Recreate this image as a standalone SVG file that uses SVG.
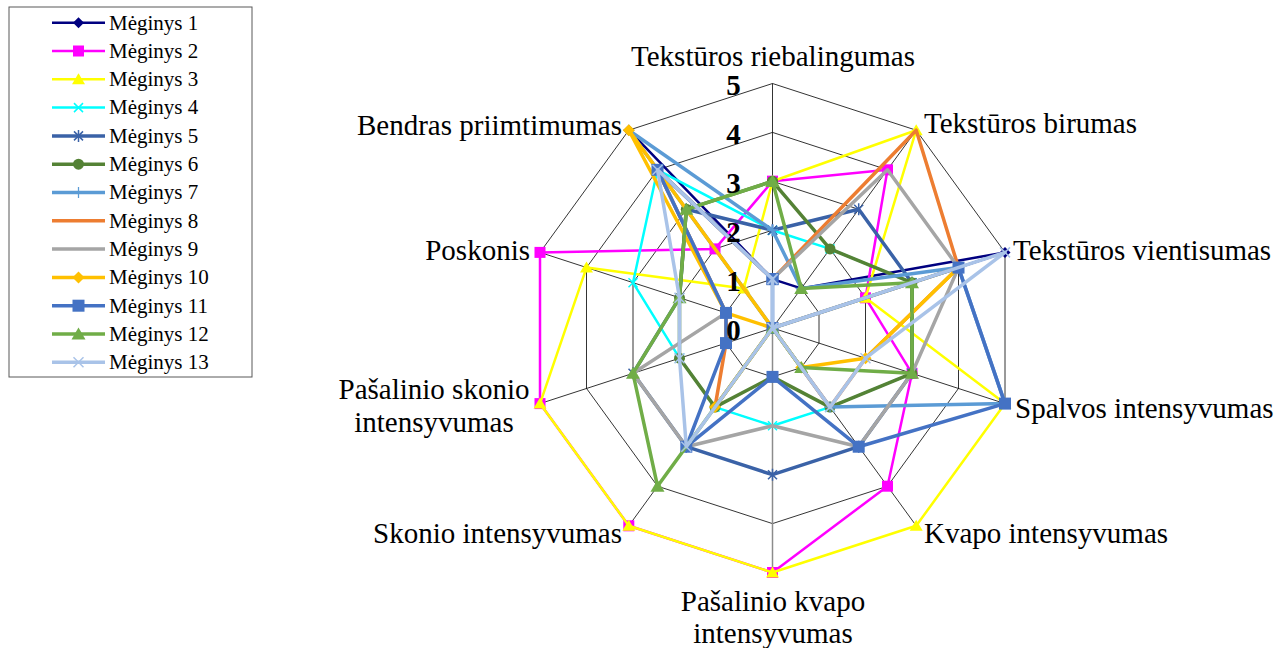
<svg xmlns="http://www.w3.org/2000/svg" width="1282" height="648" viewBox="0 0 1282 648">
<defs>
<style>
.ring{fill:none;stroke:#000;stroke-width:0.8}
.rad{stroke:#000;stroke-width:0.8}
.cat{font-family:"Liberation Serif","Times New Roman",serif;font-size:29px;fill:#000}
.tick{font-family:"Liberation Serif","Times New Roman",serif;font-size:29px;font-weight:bold;fill:#000;text-anchor:middle}
.leg{font-family:"Liberation Serif","Times New Roman",serif;font-size:21px;fill:#000}
.s{fill:none;stroke-linejoin:round;stroke-linecap:round}
.s1{stroke:#000080;stroke-width:2.5;marker:url(#mk1)}
.s2{stroke:#FF00FF;stroke-width:2.5;marker:url(#mk2)}
.s3{stroke:#FFFF00;stroke-width:2.5;marker:url(#mk3)}
.s4{stroke:#00FFFF;stroke-width:2.5;marker:url(#mk4)}
.s5{stroke:#3A62A7;stroke-width:3.5;marker:url(#mk5)}
.s6{stroke:#548235;stroke-width:3.5;marker:url(#mk6)}
.s7{stroke:#5B9BD5;stroke-width:3.5;marker:url(#mk7)}
.s8{stroke:#ED7D31;stroke-width:3.5}
.s9{stroke:#A5A5A5;stroke-width:3.5}
.s10{stroke:#FFC000;stroke-width:3.5;marker:url(#mk10)}
.s11{stroke:#4472C4;stroke-width:3.5;marker:url(#mk11)}
.s12{stroke:#70AD47;stroke-width:3.5;marker:url(#mk12)}
.s13{stroke:#A9C3E8;stroke-width:3.5;marker:url(#mk13)}
.lg{marker-start:none;marker-end:none;stroke-linecap:butt}
</style>
<marker id="mk1" markerUnits="userSpaceOnUse" viewBox="-8 -8 16 16" markerWidth="16" markerHeight="16" refX="0" refY="0"><polygon points="0,-5.5 5.5,0 0,5.5 -5.5,0" fill="#000080"/></marker>
<marker id="mk2" markerUnits="userSpaceOnUse" viewBox="-8 -8 16 16" markerWidth="16" markerHeight="16" refX="0" refY="0"><rect x="-5.5" y="-5.5" width="11" height="11" fill="#FF00FF"/></marker>
<marker id="mk3" markerUnits="userSpaceOnUse" viewBox="-8 -8 16 16" markerWidth="16" markerHeight="16" refX="0" refY="0"><polygon points="0,-6 6.5,5 -6.5,5" fill="#FFFF00"/></marker>
<marker id="mk4" markerUnits="userSpaceOnUse" viewBox="-8 -8 16 16" markerWidth="16" markerHeight="16" refX="0" refY="0"><path d="M-4.5,-4.5L4.5,4.5M-4.5,4.5L4.5,-4.5" stroke="#00FFFF" stroke-width="1.5" fill="none"/></marker>
<marker id="mk5" markerUnits="userSpaceOnUse" viewBox="-8 -8 16 16" markerWidth="16" markerHeight="16" refX="0" refY="0"><path d="M-4.5,-4.5L4.5,4.5M-4.5,4.5L4.5,-4.5M0,-6V6" stroke="#3A62A7" stroke-width="1.5" fill="none"/></marker>
<marker id="mk6" markerUnits="userSpaceOnUse" viewBox="-8 -8 16 16" markerWidth="16" markerHeight="16" refX="0" refY="0"><circle r="5.5" fill="#548235"/></marker>
<marker id="mk7" markerUnits="userSpaceOnUse" viewBox="-8 -8 16 16" markerWidth="16" markerHeight="16" refX="0" refY="0"><path d="M0,-5.5V5.5M-5.5,0H5.5" stroke="#5B9BD5" stroke-width="1.25" fill="none"/></marker>
<marker id="mk10" markerUnits="userSpaceOnUse" viewBox="-8 -8 16 16" markerWidth="16" markerHeight="16" refX="0" refY="0"><polygon points="0,-6 6,0 0,6 -6,0" fill="#FFC000"/></marker>
<marker id="mk11" markerUnits="userSpaceOnUse" viewBox="-8 -8 16 16" markerWidth="16" markerHeight="16" refX="0" refY="0"><rect x="-6" y="-6" width="12" height="12" fill="#4472C4"/></marker>
<marker id="mk12" markerUnits="userSpaceOnUse" viewBox="-8 -8 16 16" markerWidth="16" markerHeight="16" refX="0" refY="0"><polygon points="0,-6.5 7,5.5 -7,5.5" fill="#70AD47"/></marker>
<marker id="mk13" markerUnits="userSpaceOnUse" viewBox="-8 -8 16 16" markerWidth="16" markerHeight="16" refX="0" refY="0"><path d="M-5,-5L5,5M-5,5L5,-5" stroke="#A9C3E8" stroke-width="1.5" fill="none"/></marker>
</defs>
<rect width="1282" height="648" fill="#fff"/>

<g id="legend">
<rect x="9" y="7" width="243" height="370" fill="#fff" stroke="#595959" stroke-width="1"/>
<polyline class="s s1 lg" points="52,22.7 78.5,22.7 105,22.7"/><text class="leg" x="109" y="29.5">Mėginys 1</text>
<polyline class="s s2 lg" points="52,51 78.5,51 105,51"/><text class="leg" x="109" y="57.8">Mėginys 2</text>
<polyline class="s s3 lg" points="52,79.3 78.5,79.3 105,79.3"/><text class="leg" x="109" y="86.1">Mėginys 3</text>
<polyline class="s s4 lg" points="52,107.6 78.5,107.6 105,107.6"/><text class="leg" x="109" y="114.4">Mėginys 4</text>
<polyline class="s s5 lg" points="52,135.9 78.5,135.9 105,135.9"/><text class="leg" x="109" y="142.7">Mėginys 5</text>
<polyline class="s s6 lg" points="52,164.2 78.5,164.2 105,164.2"/><text class="leg" x="109" y="171">Mėginys 6</text>
<polyline class="s s7 lg" points="52,192.5 78.5,192.5 105,192.5"/><text class="leg" x="109" y="199.3">Mėginys 7</text>
<polyline class="s s8 lg" points="52,220.8 78.5,220.8 105,220.8"/><text class="leg" x="109" y="227.6">Mėginys 8</text>
<polyline class="s s9 lg" points="52,249.1 78.5,249.1 105,249.1"/><text class="leg" x="109" y="255.9">Mėginys 9</text>
<polyline class="s s10 lg" points="52,277.4 78.5,277.4 105,277.4"/><text class="leg" x="109" y="284.2">Mėginys 10</text>
<polyline class="s s11 lg" points="52,305.7 78.5,305.7 105,305.7"/><text class="leg" x="109" y="312.5">Mėginys 11</text>
<polyline class="s s12 lg" points="52,334 78.5,334 105,334"/><text class="leg" x="109" y="340.8">Mėginys 12</text>
<polyline class="s s13 lg" points="52,362.3 78.5,362.3 105,362.3"/><text class="leg" x="109" y="369.1">Mėginys 13</text>
</g>

<g id="grid">
<polygon class="ring" points="772.5,279.1 801.2,288.4 819,312.9 819,343.1 801.2,367.6 772.5,376.9 743.8,367.6 726,343.1 726,312.9 743.8,288.4"/>
<polygon class="ring" points="772.5,230.2 830,248.9 865.5,297.8 865.5,358.2 830,407.1 772.5,425.8 715,407.1 679.5,358.2 679.5,297.8 715,248.9"/>
<polygon class="ring" points="772.5,181.3 858.7,209.3 912,282.7 912,373.3 858.7,446.7 772.5,474.7 686.3,446.7 633,373.3 633,282.7 686.3,209.3"/>
<polygon class="ring" points="772.5,132.4 887.5,169.8 958.5,267.6 958.5,388.4 887.5,486.2 772.5,523.6 657.5,486.2 586.5,388.4 586.5,267.6 657.5,169.8"/>
<polygon class="ring" points="772.5,83.5 916.2,130.2 1005,252.4 1005,403.6 916.2,525.8 772.5,572.5 628.8,525.8 540,403.6 540,252.4 628.8,130.2"/>
<line class="rad" x1="772.5" y1="328" x2="772.5" y2="83.5" stroke-width="1.2"/>
<line class="rad" x1="772.5" y1="328" x2="916.2" y2="130.2"/>
<line class="rad" x1="772.5" y1="328" x2="1005" y2="252.4"/>
<line class="rad" x1="772.5" y1="328" x2="1005" y2="403.6"/>
<line class="rad" x1="772.5" y1="328" x2="916.2" y2="525.8"/>
<line class="rad" x1="772.5" y1="328" x2="628.8" y2="525.8"/>
<line class="rad" x1="772.5" y1="328" x2="540" y2="403.6"/>
<line class="rad" x1="772.5" y1="328" x2="540" y2="252.4"/>
<line class="rad" x1="772.5" y1="328" x2="628.8" y2="130.2"/>
<line x1="772.5" y1="328" x2="772.5" y2="572.5" stroke="#8C8C8C" stroke-width="1.5"/>
</g>

<g id="category-labels">
<text class="cat" x="773" y="66" text-anchor="middle">Tekstūros riebalingumas</text>
<text class="cat" x="924" y="133">Tekstūros birumas</text>
<text class="cat" x="1013" y="260">Tekstūros vientisumas</text>
<text class="cat" x="1015" y="418">Spalvos intensyvumas</text>
<text class="cat" x="924" y="543">Kvapo intensyvumas</text>
<text class="cat" x="773" y="611" text-anchor="middle">Pašalinio kvapo</text>
<text class="cat" x="773" y="643" text-anchor="middle">intensyvumas</text>
<text class="cat" x="622" y="543" text-anchor="end">Skonio intensyvumas</text>
<text class="cat" x="434" y="399" text-anchor="middle">Pašalinio skonio</text>
<text class="cat" x="434" y="432" text-anchor="middle">intensyvumas</text>
<text class="cat" x="530" y="260" text-anchor="end">Poskonis</text>
<text class="cat" x="622" y="135" text-anchor="end">Bendras priimtimumas</text>
</g>

<g id="connectors">
<polygon id="series1" class="s s1" points="772.5,279.1 801.2,288.4 1005,252.4 772.5,328 772.5,328 772.5,328 772.5,328 772.5,328 772.5,328 628.8,130.2"/>
<polygon id="series2" class="s s2" points="772.5,181.3 887.5,169.8 865.5,297.8 912,373.3 887.5,486.2 772.5,572.5 628.8,525.8 540,403.6 540,252.4 715,248.9"/>
<polygon id="series3" class="s s3" points="772.5,181.3 916.2,130.2 865.5,297.8 1005,403.6 916.2,525.8 772.5,572.5 628.8,525.8 540,403.6 586.5,267.6 743.8,288.4"/>
<polygon id="series4" class="s s4" points="772.5,230.2 830,248.9 912,282.7 912,373.3 830,407.1 772.5,425.8 715,407.1 679.5,358.2 633,282.7 657.5,169.8"/>
<polygon id="series5" class="s s5" points="772.5,230.2 858.7,209.3 912,282.7 912,373.3 858.7,446.7 772.5,474.7 686.3,446.7 633,373.3 679.5,297.8 686.3,209.3"/>
<polygon id="series6" class="s s6" points="772.5,181.3 830,248.9 912,282.7 912,373.3 830,407.1 772.5,376.9 715,407.1 679.5,358.2 679.5,297.8 686.3,209.3"/>
<polygon id="series7" class="s s7" points="772.5,230.2 801.2,288.4 958.5,267.6 1005,403.6 830,407.1 772.5,328 772.5,328 772.5,328 772.5,328 628.8,130.2"/>
<polygon id="series8" class="s s8" points="772.5,279.1 916.2,130.2 958.5,267.6 865.5,358.2 830,407.1 772.5,328 715,407.1 726,343.1 726,312.9 657.5,169.8"/>
<polygon id="series9" class="s s9" points="772.5,279.1 887.5,169.8 958.5,267.6 912,373.3 858.7,446.7 772.5,425.8 686.3,446.7 633,373.3 726,312.9 657.5,169.8"/>
<polygon id="series10" class="s s10" points="772.5,328 772.5,328 958.5,267.6 865.5,358.2 801.2,367.6 772.5,328 715,407.1 772.5,328 726,312.9 628.8,130.2"/>
<polygon id="series11" class="s s11" points="772.5,279.1 772.5,328 958.5,267.6 1005,403.6 858.7,446.7 772.5,376.9 686.3,446.7 726,343.1 726,312.9 657.5,169.8"/>
<polygon id="series12" class="s s12" points="772.5,181.3 801.2,288.4 912,282.7 912,373.3 801.2,367.6 772.5,328 657.5,486.2 633,373.3 679.5,297.8 686.3,209.3"/>
<polygon id="series13" class="s s13" points="772.5,279.1 772.5,328 1005,252.4 865.5,358.2 830,407.1 772.5,328 686.3,446.7 679.5,358.2 679.5,297.8 657.5,169.8"/>
</g>

<g id="value-axis-labels">
<text class="tick" x="733.5" y="339.5">0</text>
<text class="tick" x="733.5" y="290.6">1</text>
<text class="tick" x="733.5" y="241.7">2</text>
<text class="tick" x="733.5" y="192.8">3</text>
<text class="tick" x="733.5" y="143.9">4</text>
<text class="tick" x="733.5" y="95">5</text>
</g>
</svg>
